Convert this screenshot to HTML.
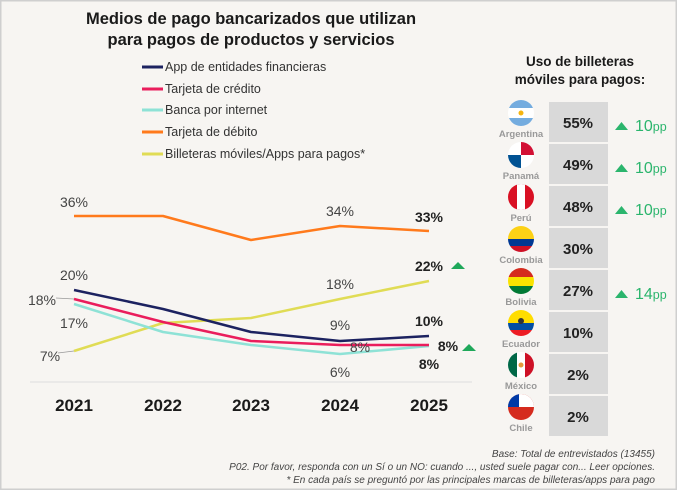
<!DOCTYPE html><html><head><meta charset="utf-8"><style>
html,body{margin:0;padding:0;background:#f7f5f2}
svg{display:block}
text{font-family:"Liberation Sans",sans-serif}
</style></head><body>
<svg width="677" height="490" viewBox="0 0 677 490" xmlns="http://www.w3.org/2000/svg">
<rect x="0" y="0" width="677" height="490" fill="#f7f5f2"/>
<rect x="0.5" y="0.5" width="676" height="489" fill="none" stroke="#cfcfcf" stroke-width="2"/>
<g font-weight="bold" font-size="16.5" fill="#1a1a1a" text-anchor="middle">
<text x="251" y="24">Medios de pago bancarizados que utilizan</text>
<text x="251" y="45">para pagos de productos y servicios</text>
</g>
<g stroke-width="3">
<line x1="142" y1="67" x2="163" y2="67" stroke="#1c2260"/>
<line x1="142" y1="89" x2="163" y2="89" stroke="#ea1d5c"/>
<line x1="142" y1="110" x2="163" y2="110" stroke="#8ee2d6"/>
<line x1="142" y1="132" x2="163" y2="132" stroke="#ff7a1c"/>
<line x1="142" y1="154" x2="163" y2="154" stroke="#e0dc55"/>
</g>
<g font-size="12.5" fill="#333">
<text x="165" y="71">App de entidades financieras</text>
<text x="165" y="93">Tarjeta de crédito</text>
<text x="165" y="114">Banca por internet</text>
<text x="165" y="136">Tarjeta de débito</text>
<text x="165" y="158">Billeteras móviles/Apps para pagos*</text>
</g>
<line x1="30" y1="382" x2="472" y2="382" stroke="#ddd" stroke-width="1"/>
<g fill="none" stroke-width="2.5" stroke-linejoin="round">
<polyline stroke="#ff7a1c" points="74,216 163,216 251,240 340,226 429,231"/>
<polyline stroke="#e0dc55" points="74,351 163,323 251,318 340,299 429,281"/>
<polyline stroke="#8ee2d6" points="74,304 163,332 251,345 340,354 429,346"/>
<polyline stroke="#ea1d5c" points="74,299 163,322 251,341 340,345 429,345"/>
<polyline stroke="#1c2260" points="74,290 163,309 251,332 340,341 429,336"/>
</g>
<line x1="56" y1="298" x2="74" y2="299" stroke="#999" stroke-width="0.8"/>
<line x1="58" y1="353" x2="74" y2="351" stroke="#999" stroke-width="0.8"/>
<g font-size="14" fill="#444">
<text x="74" y="207" text-anchor="middle">36%</text>
<text x="340" y="216" text-anchor="middle">34%</text>
<text x="74" y="280" text-anchor="middle">20%</text>
<text x="42" y="305" text-anchor="middle">18%</text>
<text x="74" y="328" text-anchor="middle">17%</text>
<text x="50" y="361" text-anchor="middle">7%</text>
<text x="340" y="289" text-anchor="middle">18%</text>
<text x="340" y="330" text-anchor="middle">9%</text>
<text x="360" y="352" text-anchor="middle">8%</text>
<text x="340" y="377" text-anchor="middle">6%</text>
</g>
<g font-size="14" font-weight="bold" fill="#222">
<text x="429" y="222" text-anchor="middle">33%</text>
<text x="429" y="271" text-anchor="middle">22%</text>
<text x="429" y="326" text-anchor="middle">10%</text>
<text x="448" y="351" text-anchor="middle">8%</text>
<text x="429" y="369" text-anchor="middle">8%</text>
</g>
<polygon points="451,269 458,262 465,269" fill="#1fa85a"/>
<polygon points="462,351 469,344 476,351" fill="#1fa85a"/>
<g font-size="17" font-weight="bold" fill="#1a1a1a" text-anchor="middle">
<text x="74" y="411">2021</text><text x="163" y="411">2022</text><text x="251" y="411">2023</text><text x="340" y="411">2024</text><text x="429" y="411">2025</text>
</g>
<g font-size="13.5" font-weight="bold" fill="#1a1a1a" text-anchor="middle">
<text x="580" y="66">Uso de billeteras</text>
<text x="580" y="84">móviles para pagos:</text>
</g>
<g fill="#d9d9d9">
<rect x="549" y="102" width="59" height="40"/><rect x="549" y="144" width="59" height="40"/>
<rect x="549" y="186" width="59" height="40"/><rect x="549" y="228" width="59" height="40"/>
<rect x="549" y="270" width="59" height="40"/><rect x="549" y="312" width="59" height="40"/>
<rect x="549" y="354" width="59" height="40"/><rect x="549" y="396" width="59" height="40"/>
</g>
<g font-size="15" font-weight="bold" fill="#222" text-anchor="middle">
<text x="578" y="128">55%</text><text x="578" y="170">49%</text><text x="578" y="212">48%</text><text x="578" y="254">30%</text>
<text x="578" y="296">27%</text><text x="578" y="338">10%</text><text x="578" y="380">2%</text><text x="578" y="422">2%</text>
</g>
<defs>
<clipPath id="c1"><circle cx="521" cy="113" r="13"/></clipPath>
<clipPath id="c2"><circle cx="521" cy="155" r="13"/></clipPath>
<clipPath id="c3"><circle cx="521" cy="197" r="13"/></clipPath>
<clipPath id="c4"><circle cx="521" cy="239" r="13"/></clipPath>
<clipPath id="c5"><circle cx="521" cy="281" r="13"/></clipPath>
<clipPath id="c6"><circle cx="521" cy="323" r="13"/></clipPath>
<clipPath id="c7"><circle cx="521" cy="365" r="13"/></clipPath>
<clipPath id="c8"><circle cx="521" cy="407" r="13"/></clipPath>
</defs>
<g clip-path="url(#c1)"><rect x="508" y="100" width="26" height="26" fill="#fff"/><rect x="508" y="100" width="26" height="8" fill="#74acdf"/><rect x="508" y="118" width="26" height="8" fill="#74acdf"/><circle cx="521" cy="113" r="2.5" fill="#f6b40e"/></g>
<g clip-path="url(#c2)"><rect x="508" y="142" width="26" height="26" fill="#fff"/><rect x="521" y="142" width="13" height="13" fill="#d21034"/><rect x="508" y="155" width="13" height="13" fill="#005293"/></g>
<g clip-path="url(#c3)"><rect x="508" y="184" width="26" height="26" fill="#d91023"/><rect x="517" y="184" width="8" height="26" fill="#fff"/></g>
<g clip-path="url(#c4)"><rect x="508" y="226" width="26" height="13" fill="#fcd116"/><rect x="508" y="239" width="26" height="7" fill="#003893"/><rect x="508" y="246" width="26" height="7" fill="#ce1126"/></g>
<g clip-path="url(#c5)"><rect x="508" y="268" width="26" height="9" fill="#d52b1e"/><rect x="508" y="277" width="26" height="9" fill="#f9e300"/><rect x="508" y="286" width="26" height="9" fill="#007934"/></g>
<g clip-path="url(#c6)"><rect x="508" y="310" width="26" height="13" fill="#ffdd00"/><rect x="508" y="323" width="26" height="7" fill="#034ea2"/><rect x="508" y="330" width="26" height="7" fill="#ed1c24"/><circle cx="521" cy="321" r="3" fill="#333"/></g>
<g clip-path="url(#c7)"><rect x="508" y="352" width="26" height="26" fill="#fff"/><rect x="508" y="352" width="9" height="26" fill="#006847"/><rect x="525" y="352" width="9" height="26" fill="#ce1126"/><circle cx="521" cy="365" r="2.5" fill="#e59a3a"/></g>
<g clip-path="url(#c8)"><rect x="508" y="394" width="26" height="26" fill="#d52b1e"/><rect x="508" y="394" width="26" height="13" fill="#fff"/><rect x="508" y="394" width="11" height="13" fill="#0039a6"/></g>
<g font-size="9.5" font-weight="bold" fill="#999" text-anchor="middle">
<text x="521" y="137">Argentina</text><text x="521" y="179">Panamá</text><text x="521" y="221">Perú</text><text x="521" y="263">Colombia</text>
<text x="521" y="305">Bolivia</text><text x="521" y="347">Ecuador</text><text x="521" y="389">México</text><text x="521" y="431">Chile</text>
</g>
<g fill="#2bb56d">
<polygon points="615,130 621.5,122 628,130"/><polygon points="615,172 621.5,164 628,172"/><polygon points="615,214 621.5,206 628,214"/><polygon points="615,298 621.5,290 628,298"/>
</g>
<g font-size="16" fill="#2bb56d">
<text x="635" y="131">10<tspan font-size="12.5">pp</tspan></text>
<text x="635" y="173">10<tspan font-size="12.5">pp</tspan></text>
<text x="635" y="215">10<tspan font-size="12.5">pp</tspan></text>
<text x="635" y="299">14<tspan font-size="12.5">pp</tspan></text>
</g>
<g font-size="10" font-style="italic" fill="#444" text-anchor="end">
<text x="655" y="457">Base: Total de entrevistados (13455)</text>
<text x="655" y="470">P02. Por favor, responda con un Sí o un NO: cuando ..., usted suele pagar con... Leer opciones.</text>
<text x="655" y="483">* En cada país se preguntó por las principales marcas de billeteras/apps para pago</text>
</g>
</svg>
</body></html>
